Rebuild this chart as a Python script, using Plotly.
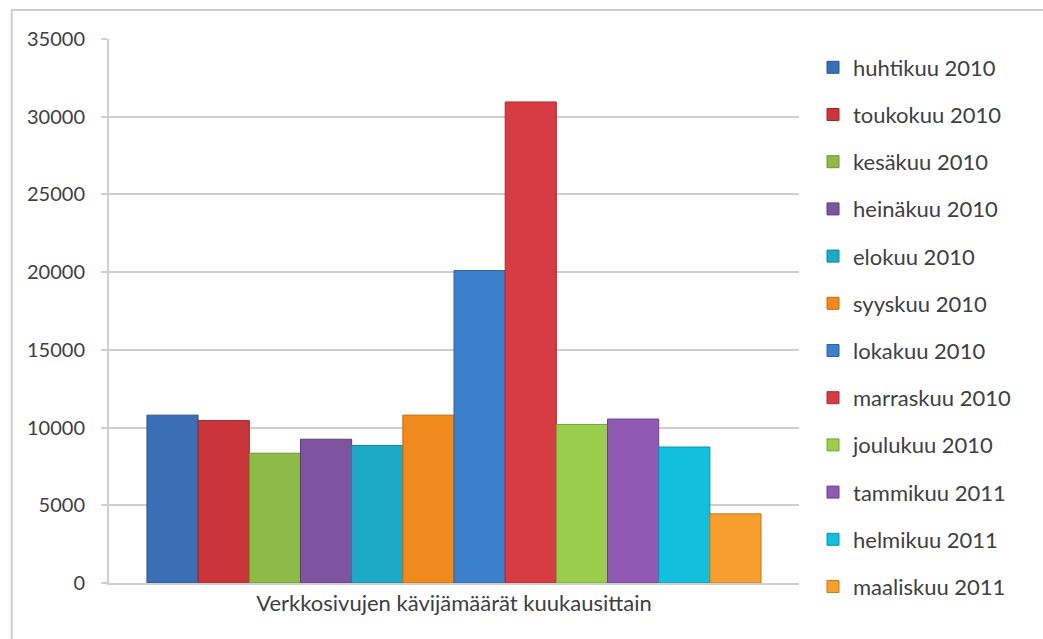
import plotly.graph_objects as go

category = ["Verkkosivujen kävijämäärät kuukausittain"]
months = ["huhtikuu 2010", "toukokuu 2010", "kesäkuu 2010", "heinäkuu 2010",
          "elokuu 2010", "syyskuu 2010", "lokakuu 2010", "marraskuu 2010",
          "joulukuu 2010", "tammikuu 2011", "helmikuu 2011", "maaliskuu 2011"]
visitors = [10800, 10450, 8350, 9250, 8850, 10800, 20100, 30950, 10200, 10550, 8750, 4450]
colors = ["#3A6FB5", "#C9353A", "#8DBB45", "#7E54A0", "#1CAAC7", "#F08A1C",
          "#3C80CC", "#D63C42", "#9ACD4C", "#9059B3", "#12BFDD", "#F79F2E"]
line_colors = ["#2B5590", "#9E262B", "#6E9332", "#5F3D7B", "#13849A", "#C06A10",
               "#2D62A0", "#A82C31", "#79A237", "#6E428B", "#0C94AE", "#C77A1C"]
y_ticks = [0, 5000, 10000, 15000, 20000, 25000, 30000, 35000]

fig = go.Figure()
for m, v, c, lc in zip(months, visitors, colors, line_colors):
    fig.add_trace(go.Bar(
        x=category, y=[v], name=m, legendgroup=m,
        marker=dict(color=c, line=dict(color=lc, width=1)),
    ))

W, H = 1043, 639
L, R, T, B = 109, 799, 38.5, 582.7
fig.update_layout(
    width=W, height=H,
    margin=dict(l=L, r=W - R, t=T, b=H - B, pad=0),
    paper_bgcolor="white", plot_bgcolor="white",
    barmode="group", bargap=0.11, bargroupgap=0,
    font=dict(family="Lato, 'Open Sans', sans-serif", size=20, color="#404040"),
    yaxis=dict(range=[0, 35000], tickvals=y_ticks, ticktext=[str(t) for t in y_ticks],
               showgrid=True, gridcolor="#CFCFCF", gridwidth=2,
               showline=True, linecolor="#CFCFCF", linewidth=2,
               ticks="outside", ticklen=6, tickcolor="#CFCFCF", tickwidth=2,
               ticklabelstandoff=12,
               tickfont=dict(size=20, color="#404040"), zeroline=False),
    xaxis=dict(showline=True, linecolor="#CFCFCF", linewidth=2,
               tickfont=dict(size=22, color="#404040"), ticks=""),
    legend=dict(x=(813 - L) / (R - L), y=(B - 46) / (B - T), xanchor="left", yanchor="top",
                font=dict(size=22, color="#404040"), tracegroupgap=15.6,
                bgcolor="rgba(0,0,0,0)", itemwidth=30, maxheight=600),
    showlegend=True,
    shapes=[dict(type="rect", xref="paper", yref="paper",
                 x0=(11.7 - L) / (R - L), x1=1.5,
                 y0=-0.5, y1=(B - 9.5) / (B - T),
                 line=dict(color="#CFCFCF", width=2), fillcolor="rgba(0,0,0,0)", layer="below")],
)

fig.write_html("out.html")
